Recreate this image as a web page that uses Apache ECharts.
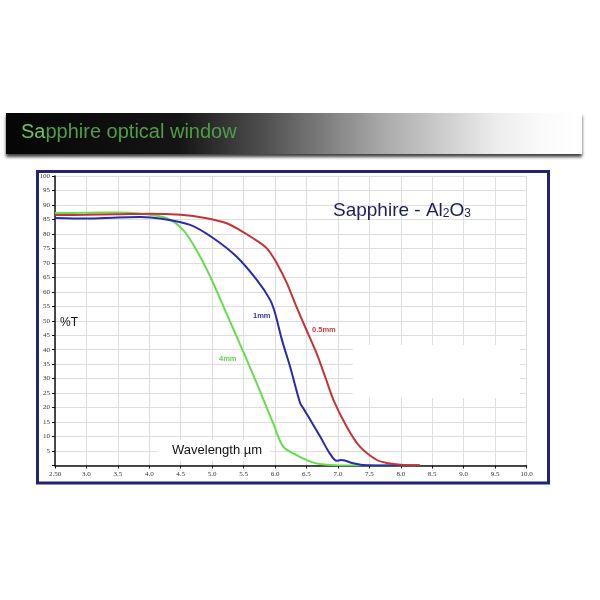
<!DOCTYPE html>
<html>
<head>
<meta charset="utf-8">
<script src="https://cdn.jsdelivr.net/npm/echarts@6/dist/echarts.min.js"></script>
<style>html,body{margin:0;padding:0;background:#fff}#c{width:600px;height:600px}</style>
</head>
<body>
<div id="c"></div>
<script>
// Wavelength (µm) and transmission (%T) per thickness
var wl05 = [2.5, 3.0, 3.5, 4.0, 4.5, 4.91, 5.23, 5.44, 5.65, 5.87, 6.03, 6.19, 6.34, 6.5, 6.66, 6.8, 6.93, 7.14, 7.35, 7.62, 7.8, 7.99, 8.3];
var t05  = [86.5, 86.6, 86.8, 87.0, 86.6, 85.4, 83.7, 81.3, 78.5, 75.0, 69.8, 62.9, 54.9, 46.8, 38.8, 30.5, 22.6, 13.4, 6.5, 1.9, 0.8, 0.3, 0.1];
var wl1  = [2.5, 3.0, 3.5, 3.85, 4.2, 4.65, 5.02, 5.39, 5.71, 5.92, 6.0, 6.11, 6.24, 6.4, 6.45, 6.53, 6.72, 6.87, 6.98, 7.05, 7.11, 7.24, 7.45, 8.3];
var t1   = [85.5, 85.3, 85.7, 85.8, 85.2, 83.1, 78.5, 72.1, 64.1, 57.3, 52.7, 43.4, 34.1, 21.5, 19.8, 16.9, 9.9, 4.2, 1.6, 1.9, 1.7, 0.8, 0.1, 0.0];
var wl4  = [2.5, 3.0, 3.5, 3.86, 4.28, 4.54, 4.75, 4.97, 5.18, 5.39, 5.71, 5.97, 6.13, 6.34, 6.61, 6.82, 7.2, 8.3];
var t4   = [87.2, 87.3, 87.4, 87.0, 85.4, 81.3, 74.4, 65.2, 54.9, 44.5, 28.4, 14.6, 6.5, 3.6, 1.0, 0.3, 0.0, 0.0];
var seriesNames = ['0.5mm', '1mm', '4mm'];

function pairs(xs, ys) { return xs.map(function (x, i) { return [x, ys[i]]; }); }

var chart = echarts.init(document.getElementById('c'));
var tickFont = {fontFamily: 'Liberation Serif', fontSize: 7, color: '#333'};
chart.setOption({
  backgroundColor: '#fff',
  animation: false,
  grid: {left: 55, right: 73.5, top: 176, bottom: 134.5},
  xAxis: {
    type: 'value', min: 2.5, max: 10, interval: 0.5,
    axisLine: {show: true, onZero: false, lineStyle: {color: '#111', width: 1.5}},
    axisTick: {show: true, length: 3, lineStyle: {color: '#111'}},
    axisLabel: Object.assign({margin: 5, formatter: function (v) { return v === 2.5 ? '2.50' : v.toFixed(1); }}, tickFont),
    splitLine: {show: true, lineStyle: {color: '#dedede', width: 1}}
  },
  yAxis: {
    type: 'value', min: 0, max: 100, interval: 5,
    axisLine: {show: true, lineStyle: {color: '#111', width: 1.5}},
    axisTick: {show: true, length: 3, lineStyle: {color: '#111'}},
    axisLabel: Object.assign({margin: 5, formatter: function (v) { return v === 0 ? '' : String(v); }}, tickFont),
    splitLine: {show: true, lineStyle: {color: '#dedede', width: 1}}
  },
  series: [
    {name: seriesNames[2], type: 'line', data: pairs(wl4, t4), smooth: 0.3, showSymbol: false, lineStyle: {color: '#66dd4c', width: 2}, z: 3},
    {name: seriesNames[1], type: 'line', data: pairs(wl1, t1), smooth: 0.3, showSymbol: false, lineStyle: {color: '#2a2aac', width: 2}, z: 4},
    {name: seriesNames[0], type: 'line', data: pairs(wl05, t05), smooth: 0.3, showSymbol: false, lineStyle: {color: '#c43434', width: 2}, z: 5}
  ],
  graphic: [
    // header banner
    {type: 'rect', z: 10, shape: {x: 6, y: 113, width: 576, height: 41},
     style: {fill: new echarts.graphic.LinearGradient(0, 0, 1, 0, [
       {offset: 0, color: '#050505'}, {offset: 0.3, color: '#151515'}, {offset: 0.45, color: '#505050'},
       {offset: 0.65, color: '#a8a8a8'}, {offset: 0.85, color: '#ececec'}, {offset: 0.93, color: '#fafafa'}, {offset: 1, color: '#fff'}]),
       shadowColor: 'rgba(0,0,0,0.75)', shadowBlur: 3, shadowOffsetY: 3}},
    {type: 'text', z: 11, left: 21, top: 122,
     style: {text: '{a|Sa}{b|pphire optical window}',
       rich: {a: {fontFamily: 'Liberation Sans', fontSize: 20, fill: '#6cc45c'},
              b: {fontFamily: 'Liberation Sans', fontSize: 20, fill: '#4f9e47'}}}},
    // chart frame
    {type: 'rect', z: 10, shape: {x: 37.5, y: 171.5, width: 511, height: 311.5},
     style: {fill: 'none', stroke: '#23236e', lineWidth: 3}},
    // white patches covering gridlines
    {type: 'rect', z: 1, shape: {x: 353, y: 345, width: 167, height: 53}, style: {fill: '#fff'}},
    {type: 'rect', z: 1, shape: {x: 158, y: 440, width: 112, height: 21}, style: {fill: '#fff'}},
    // texts
    {type: 'text', z: 10, left: 172, top: 444,
     style: {text: 'Wavelength µm', fontFamily: 'Liberation Sans', fontSize: 13, fill: '#111'}},
    {type: 'text', z: 10, left: 60, top: 317,
     style: {text: '%T', fontFamily: 'Liberation Sans', fontSize: 12, fill: '#111'}},
    {type: 'text', z: 10, left: 253, top: 312,
     style: {text: '1mm', fontFamily: 'Liberation Sans', fontSize: 7.5, fontWeight: 'bold', fill: '#3535a8'}},
    {type: 'text', z: 10, left: 312, top: 326,
     style: {text: '0.5mm', fontFamily: 'Liberation Sans', fontSize: 7.5, fontWeight: 'bold', fill: '#c24040'}},
    {type: 'text', z: 10, left: 219, top: 355,
     style: {text: '4mm', fontFamily: 'Liberation Sans', fontSize: 7.5, fontWeight: 'bold', fill: '#5fd04c'}},
    {type: 'text', z: 10, left: 333, top: 201,
     style: {text: '{m|Sapphire - Al}{s|2}{m|O}{s|3}',
       rich: {m: {fontFamily: 'Liberation Sans', fontSize: 19, lineHeight: 22, fill: '#1e1e5c', verticalAlign: 'bottom'},
              s: {fontFamily: 'Liberation Sans', fontSize: 12, lineHeight: 9, fill: '#1e1e5c', verticalAlign: 'bottom'}}}}
  ]
});
</script>
</body>
</html>
